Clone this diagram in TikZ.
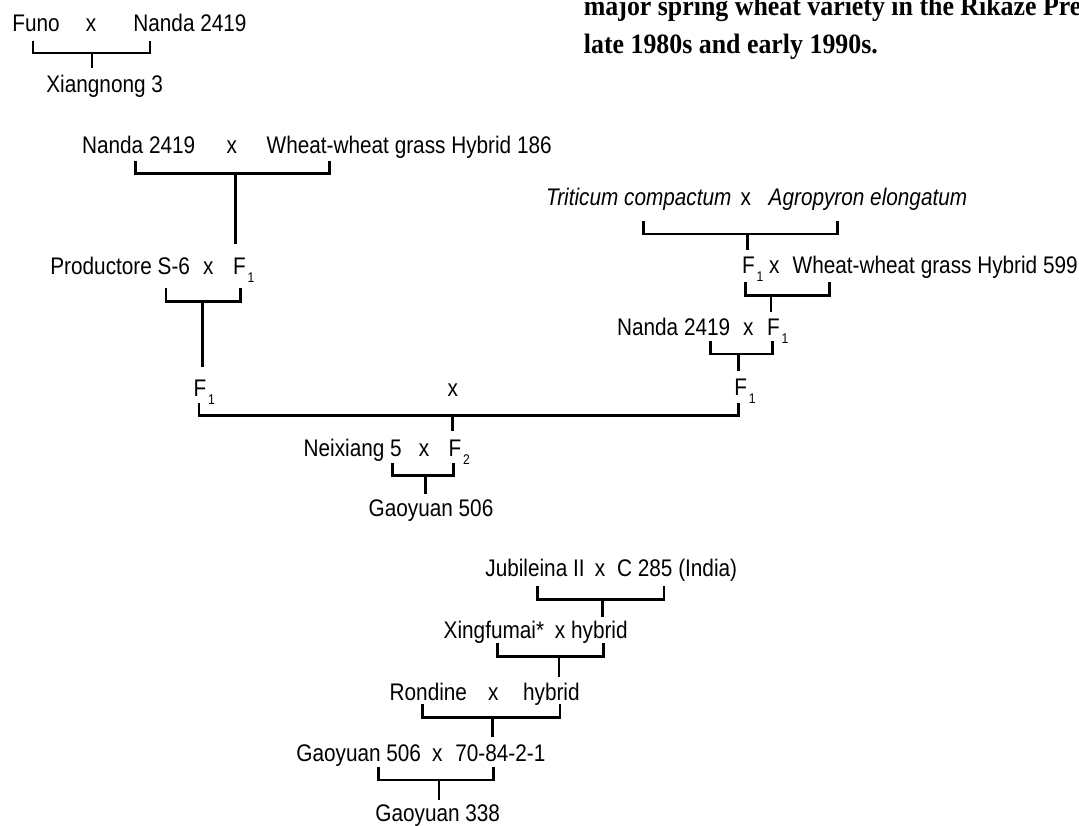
\documentclass[tikz,border=0pt]{standalone}
\usepackage{fontspec}
\setmainfont{Liberation Sans}[FakeStretch=0.865]
\newfontfamily\headfont{Liberation Serif}[FakeStretch=0.924]
\newcommand\subidx[1]{\hspace{0.9pt}\raisebox{-4pt}{\fontsize{7}{7}\selectfont #1}}
\tikzset{
  lbl/.style={anchor=base west, inner sep=0pt, font=\fontsize{12}{14}\selectfont},
  cross/.style={anchor=base, inner sep=0pt, font=\fontsize{12}{14}\selectfont},
  conn/.style={line width=1.3pt},
  head/.style={anchor=base west, inner sep=0pt, font=\headfont\bfseries\fontsize{14}{16}\selectfont},
}
\begin{document}
\begin{tikzpicture}[x=0.5pt,y=-0.5pt]
\useasboundingbox (0,0) rectangle (1079,825);
\clip (0,0) rectangle (1079,825);

% heading text (cut by the page edge)
\node[head] (h1) at (583.5,15) {major spring wheat variety in the Rikaze Pre};
\node[head] (h2) at (583.5,53) {late 1980s and early 1990s.};

% ---- group 1
\node[lbl] (funo) at (12,31) {Funo};
\node[cross] (x1) at (91,31) {x};
\node[lbl] (nanda1) at (133,31) {Nanda 2419};
\node[lbl] (xiang) at (46,92) {Xiangnong 3};
\coordinate (b1l) at (33,41); \coordinate (b1r) at (150,41);
\coordinate (b1m) at (92,53); \coordinate (b1s) at (92,68);
\draw[conn] (b1l) |- (b1m) -| (b1r); \draw[conn] (b1m) -- (b1s);

% ---- group 2 (left branch)
\node[lbl] (nanda2) at (81.7,153.3) {Nanda 2419};
\node[cross] (x2) at (231.7,153.3) {x};
\node[lbl] (wh186) at (266.3,153.3) {Wheat-wheat grass Hybrid 186};
\coordinate (b2l) at (135.3,160.7); \coordinate (b2r) at (329.3,160.7);
\coordinate (b2m) at (235.3,173.3); \coordinate (b2s) at (235.3,244);
\draw[conn] (b2l) |- (b2m) -| (b2r); \draw[conn] (b2m) -- (b2s);

\node[lbl] (prod) at (50,274.3) {Productore S-6};
\node[cross] (x3) at (208.3,274.3) {x};
\node[lbl] (f1a) at (232.7,274.3) {F\subidx{1}};
\coordinate (b3l) at (166,288.3); \coordinate (b3r) at (240.7,288.3);
\coordinate (b3m) at (202.3,301.7); \coordinate (b3s) at (202.3,366.7);
\draw[conn] (b3l) |- (b3m) -| (b3r); \draw[conn] (b3m) -- (b3s);

\node[lbl] (f1b) at (193.3,396) {F\subidx{1}};
\node[cross] (x4) at (452.7,396) {x};

% ---- right branch
\node[lbl, font=\fontsize{12}{14}\selectfont\itshape] (trit) at (545.7,205) {Triticum compactum};
\node[cross] (x5) at (745.7,205) {x};
\node[lbl, font=\fontsize{12}{14}\selectfont\itshape] (agro) at (768.3,205) {Agropyron elongatum};
\coordinate (b5l) at (643.3,220.7); \coordinate (b5r) at (837.3,220.7);
\coordinate (b5m) at (747.3,234); \coordinate (b5s) at (747.3,250);
\draw[conn] (b5l) |- (b5m) -| (b5r); \draw[conn] (b5m) -- (b5s);

\node[lbl] (f1c) at (741.7,273.3) {F\subidx{1}};
\node[cross] (x6) at (774.3,273.3) {x};
\node[lbl] (wh599) at (792.3,273.3) {Wheat-wheat grass Hybrid 599};
\coordinate (b6l) at (745.7,281.7); \coordinate (b6r) at (829.3,281.7);
\coordinate (b6m) at (771,295.7); \coordinate (b6s) at (771,311.7);
\draw[conn] (b6l) |- (b6m) -| (b6r); \draw[conn] (b6m) -- (b6s);

\node[lbl] (nanda3) at (616.7,335) {Nanda 2419};
\node[cross] (x7) at (748.3,335) {x};
\node[lbl] (f1d) at (766.7,335) {F\subidx{1}};
\coordinate (b7l) at (710.7,340.7); \coordinate (b7r) at (772.7,340.7);
\coordinate (b7m) at (738.3,354); \coordinate (b7s) at (738.3,370.7);
\draw[conn] (b7l) |- (b7m) -| (b7r); \draw[conn] (b7m) -- (b7s);

\node[lbl] (f1e) at (734,395) {F\subidx{1}};

% ---- the long cross
\coordinate (b4l) at (199,402.5); \coordinate (b4r) at (738.3,402.5);
\coordinate (b4m) at (452.3,415.5); \coordinate (b4s) at (452.3,431);
\draw[conn] (b4l) |- (b4m) -| (b4r); \draw[conn] (b4m) -- (b4s);

\node[lbl] (neix) at (303.3,456.7) {Neixiang 5};
\node[cross] (x8) at (424,456.7) {x};
\node[lbl] (f2) at (448.3,456.7) {F\subidx{2}};
\coordinate (b8l) at (392.7,463.3); \coordinate (b8r) at (453.3,463.3);
\coordinate (b8m) at (425.3,475.7); \coordinate (b8s) at (425.3,494);
\draw[conn] (b8l) |- (b8m) -| (b8r); \draw[conn] (b8m) -- (b8s);

\node[lbl] (gao506a) at (368.3,516.7) {Gaoyuan 506};

% ---- lower pedigree
\node[lbl] (jub) at (485,576.7) {Jubileina II};
\node[cross] (x9) at (600,576.7) {x};
\node[lbl] (c285) at (616.7,576.7) {C 285 (India)};
\coordinate (b9l) at (537.3,586); \coordinate (b9r) at (664,586);
\coordinate (b9m) at (602.3,599.3); \coordinate (b9s) at (602.3,616.7);
\draw[conn] (b9l) |- (b9m) -| (b9r); \draw[conn] (b9m) -- (b9s);

\node[lbl] (xing) at (443.3,638.3) {Xingfumai*};
\node[cross] (x10) at (560,638.3) {x};
\node[lbl] (hyb1) at (570.7,638.3) {hybrid};
\coordinate (b10l) at (497.7,643.3); \coordinate (b10r) at (603.3,643.3);
\coordinate (b10m) at (559,656.7); \coordinate (b10s) at (559,676.7);
\draw[conn] (b10l) |- (b10m) -| (b10r); \draw[conn] (b10m) -- (b10s);

\node[lbl] (rond) at (389.3,700) {Rondine};
\node[cross] (x11) at (493.3,700) {x};
\node[lbl] (hyb2) at (522.7,700) {hybrid};
\coordinate (b11l) at (422.3,704); \coordinate (b11r) at (560,704);
\coordinate (b11m) at (492.7,717.3); \coordinate (b11s) at (492.7,737.3);
\draw[conn] (b11l) |- (b11m) -| (b11r); \draw[conn] (b11m) -- (b11s);

\node[lbl] (gao506b) at (296,761.7) {Gaoyuan 506};
\node[cross] (x12) at (437.3,761.7) {x};
\node[lbl] (l7084) at (455,761.7) {70-84-2-1};
\coordinate (b12l) at (378.3,766.7); \coordinate (b12r) at (493.3,766.7);
\coordinate (b12m) at (439,780); \coordinate (b12s) at (439,800);
\draw[conn] (b12l) |- (b12m) -| (b12r); \draw[conn] (b12m) -- (b12s);

\node[lbl] (gao338) at (375,821.7) {Gaoyuan 338};
\end{tikzpicture}
\end{document}
